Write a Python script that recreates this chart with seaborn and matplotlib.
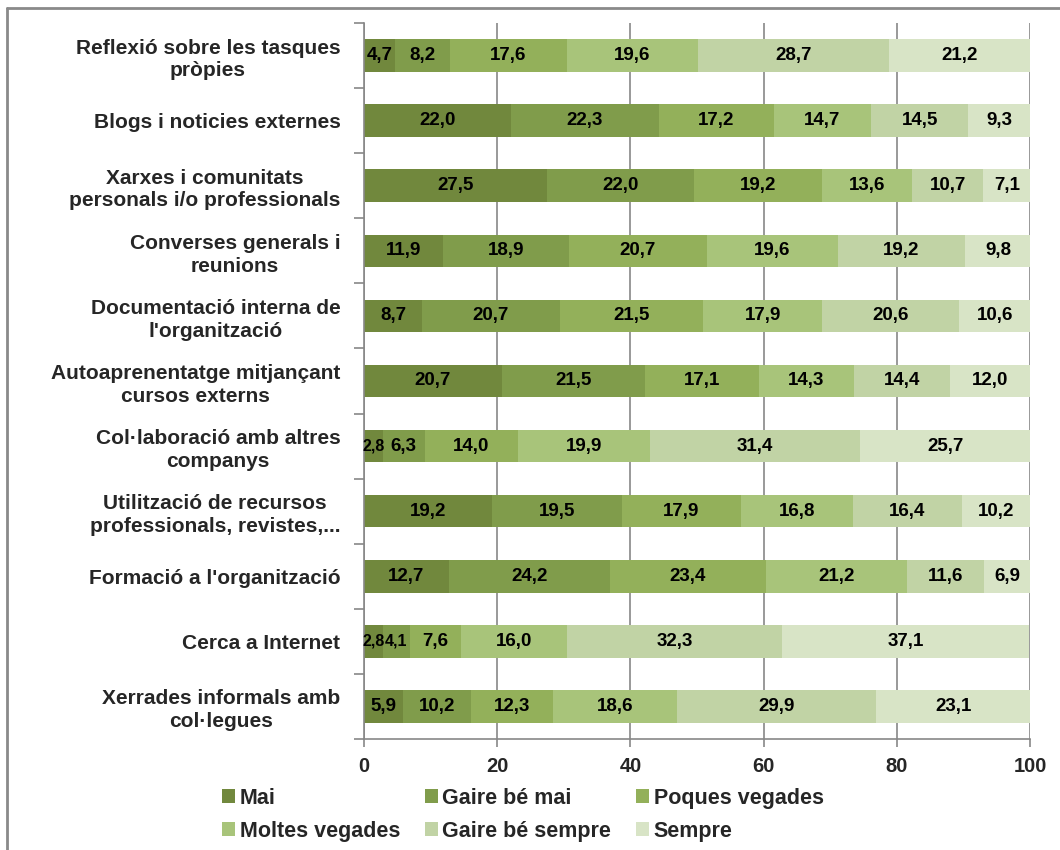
import numpy as np
import pandas as pd
import matplotlib
matplotlib.use("Agg")
import matplotlib.pyplot as plt
import seaborn as sns
from matplotlib.patches import Patch
from matplotlib.lines import Line2D

# Activities (top to bottom)
categories = [
    "Reflexió sobre les tasques\npròpies",
    "Blogs i noticies externes",
    "Xarxes i comunitats\npersonals i/o professionals",
    "Converses generals i\nreunions",
    "Documentació interna de\nl'organització",
    "Autoaprenentatge mitjançant\ncursos externs",
    "Col·laboració amb altres\ncompanys",
    "Utilització de recursos\nprofessionals, revistes,...",
    "Formació a l'organització",
    "Cerca a Internet",
    "Xerrades informals amb\ncol·legues",
]

levels = ["Mai", "Gaire bé mai", "Poques vegades",
          "Moltes vegades", "Gaire bé sempre", "Sempre"]

mai             = [4.7, 22.0, 27.5, 11.9, 8.7, 20.7, 2.8, 19.2, 12.7, 2.8, 5.9]
gaire_be_mai    = [8.2, 22.3, 22.0, 18.9, 20.7, 21.5, 6.3, 19.5, 24.2, 4.1, 10.2]
poques_vegades  = [17.6, 17.2, 19.2, 20.7, 21.5, 17.1, 14.0, 17.9, 23.4, 7.6, 12.3]
moltes_vegades  = [19.6, 14.7, 13.6, 19.6, 17.9, 14.3, 19.9, 16.8, 21.2, 16.0, 18.6]
gaire_be_sempre = [28.7, 14.5, 10.7, 19.2, 20.6, 14.4, 31.4, 16.4, 11.6, 32.3, 29.9]
sempre          = [21.2, 9.3, 7.1, 9.8, 10.6, 12.0, 25.7, 10.2, 6.9, 37.1, 23.1]

xticks = [0, 20, 40, 60, 80, 100]

colors = ["#71883d", "#809c4b", "#93b05a", "#a8c47a", "#c1d3a5", "#d8e4c6"]

df = pd.DataFrame({
    levels[0]: mai,
    levels[1]: gaire_be_mai,
    levels[2]: poques_vegades,
    levels[3]: moltes_vegades,
    levels[4]: gaire_be_sempre,
    levels[5]: sempre,
}, index=categories)
cum = df.cumsum(axis=1)

sns.set_theme(style="white")
plt.rcParams["font.family"] = ["Liberation Sans", "DejaVu Sans"]
plt.rcParams["font.weight"] = "bold"

W, H = 1060, 850
fig = plt.figure(figsize=(W / 100, H / 100), dpi=100)
ax = fig.add_axes([364 / W, 1 - 739 / H, 666 / W, 716 / H])

# stacked bars: draw cumulative totals from the last level back to the first
for lvl, col in reversed(list(zip(levels, colors))):
    sns.barplot(x=cum[lvl].values, y=categories, orient="h", color=col,
                saturation=1, width=0.5, linewidth=0, ax=ax, zorder=2)

# value labels centred in each segment (slightly smaller in very thin segments)
for i, cat in enumerate(categories):
    left = 0.0
    for lvl in levels:
        v = df.loc[cat, lvl]
        ax.text(left + v / 2, i, f"{v:.1f}".replace(".", ","),
                ha="center", va="center",
                fontsize=11.5 if v < 4.5 else 13.5, fontweight="bold",
                color="black", zorder=3)
        left += v

gray = "#878787"
ax.set_xlim(0, 100)
ax.set_ylim(len(categories) - 0.5, -0.5)
ax.set_xticks(xticks)
ax.set_xticklabels([str(t) for t in xticks])
ax.set_axisbelow(True)
ax.xaxis.grid(True, color=gray, lw=1.2)
ax.yaxis.grid(False)

ax.set_yticks(range(len(categories)))
ax.set_yticklabels(categories)
for lbl in ax.get_yticklabels():
    lbl.set_multialignment("center")
    lbl.set_linespacing(1.25)
ax.set_yticks(np.arange(-0.5, len(categories), 1), minor=True)
ax.tick_params(axis="y", which="major", length=0, pad=17, labelsize=15)
ax.tick_params(axis="y", which="minor", length=7, width=1.2, color=gray,
               direction="out", left=True)
ax.tick_params(axis="x", length=6, width=1.2, color=gray, direction="out",
               bottom=True, pad=7, labelsize=14.5)
for lbl in ax.get_xticklabels() + ax.get_yticklabels():
    lbl.set_fontweight("bold")

ax.set_xlabel("")
ax.set_ylabel("")
for side in ["top", "right"]:
    ax.spines[side].set_visible(False)
for side in ["left", "bottom"]:
    ax.spines[side].set_color(gray)
    ax.spines[side].set_linewidth(1.2)

handles = [Patch(facecolor=c, edgecolor="none", label=l)
           for l, c in zip(levels, colors)]
order = [0, 3, 1, 4, 2, 5]
fig.legend(handles=[handles[i] for i in order], ncol=3, loc="upper left",
           bbox_to_anchor=(222 / W, 1 - 788 / H), frameon=False,
           prop={"size": 15.5, "weight": "bold"},
           handlelength=0.62, handleheight=0.62, handletextpad=0.2,
           columnspacing=1.15, labelspacing=0.55, borderaxespad=0,
           borderpad=0)

# outer chart frame
fig.add_artist(Line2D([7 / W, 7 / W], [0, 1 - 8 / H], transform=fig.transFigure,
                      color="#8a8a8a", lw=2))
fig.add_artist(Line2D([7 / W, 1], [1 - 8 / H, 1 - 8 / H], transform=fig.transFigure,
                      color="#8a8a8a", lw=2))

fig.savefig("out.png", dpi=100)
